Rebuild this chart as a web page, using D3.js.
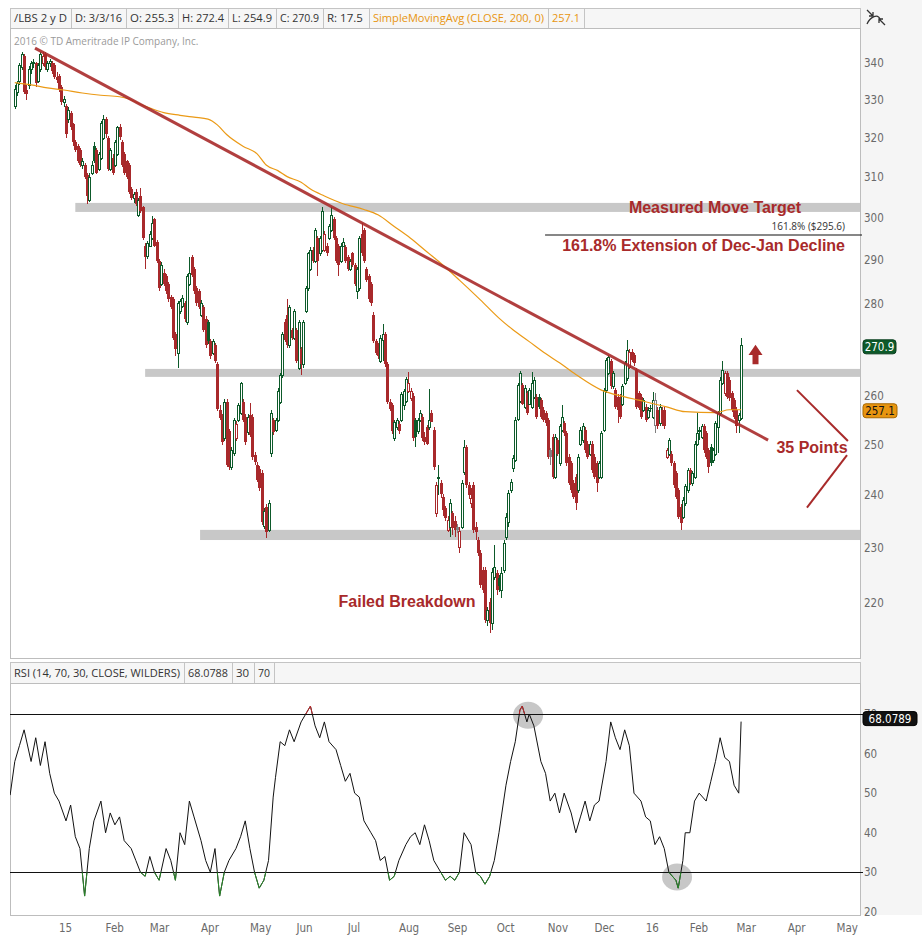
<!DOCTYPE html>
<html><head><meta charset="utf-8">
<script src="https://cdn.jsdelivr.net/npm/d3@7"></script>
<style>body{margin:0;background:#fff}svg{display:block}</style>
</head><body>
<svg id="c" width="922" height="941"></svg>
<script>
// ---------------- DATA ----------------
const symbolInfo = ["/LBS 2 y D", "D: 3/3/16", "O: 255.3", "H: 272.4", "L: 254.9", "C: 270.9", "R: 17.5"];
const smaLabel = ["SimpleMovingAvg (CLOSE, 200, 0)", "257.1"];
const rsiLabel = ["RSI (14, 70, 30, CLOSE, WILDERS)", "68.0788", "30", "70"];
const lastClose = 270.9, lastSma = 257.1, lastRsi = "68.0789";
const priceTicks = [220,230,240,250,260,270,280,290,300,310,320,330,340];
const rsiTicks = [20,30,40,50,60,70];
const monthAbbr = ["Jan","Feb","Mar","Apr","May","Jun","Jul","Aug","Sep","Oct","Nov","Dec"];
const holidays = ["2014-12-25","2015-01-01","2015-01-19","2015-02-16","2015-04-03","2015-05-25","2015-07-03","2015-09-07","2015-11-26","2015-12-25","2016-01-01","2016-01-18","2016-02-15","2016-03-25","2016-05-30"];
const firstCandleIndex = 3; // trading-day index from 2014-12-01
// [open, high, low, close]
const candles = [
[328.4,334,327.5,333],[332,335,331,334.5],[335,340,334,339.3],[338.7,343,338,342.4],[341.9,342.5,331.5,332],
[332.5,334,330,331.5],[334,339,333,338.2],[338.2,340.5,337,339.8],[339.8,341,338.5,340.3],[339.8,340.3,333.5,334.5],
[335,340,334.5,339.3],[338.2,343,337.5,342.4],[339.8,343,339,341.9],[342.4,343,338,338.7],[338.2,340.5,337.5,339.8],
[339.8,341,338.8,340.5],[339.8,340.5,337,337.7],[339.3,340,335.5,336.1],[336.1,337.5,334.5,335.2],[336.5,337,332,332.5],
[333.5,334,328.5,329.4],[329.4,331,328,330.2],[328.4,329,320,321],[324.9,328,324,327.4],[326.4,327,322,322.9],
[323.5,324,318,318.9],[319,319.5,316.5,317],[317.9,318.5,313.5,314],[316.9,317.5,312.5,313.1],[313.1,315,312,314],
[313,313.5,309.5,310],[310.5,311,303.5,305.4],[304.4,311,304,310.2],[311.2,314,310.5,313.1],[318,319,313.5,314],
[316.9,317.5,310.8,311.2],[312,316.5,311.5,316],[315,324.5,314.5,323.9],[320,325.9,319.5,324.9],[324.9,325.5,320,320.9],
[319.9,320.5,311.5,312.1],[312.1,317.5,311.5,316.9],[315,316,310.5,311.2],[313.1,319.5,312.5,318.9],[316,323.2,315.5,322.9],
[322.9,323.5,319.5,320.2],[318.9,319.5,312.5,313.1],[316,316.5,310.5,311.2],[314,314.5,309.5,310.2],[313.1,313.5,306,306.4],
[307,307.5,304.5,305],[305,306.5,303.8,305.8],[306.4,307,303,303.5],[300.8,305,300.3,304.4],[305.4,307.3,301.2,301.7],
[302.6,303,294.8,295.2],[293.4,294,288,290.7],[290.9,294.5,290.4,294],[293.4,297,293,296.2],[295.2,300.4,294.8,298.9],
[299.8,300,293,293.4],[294.3,294.8,289.3,289.8],[289.8,290.3,283,283.6],[284.5,289.5,284,288.9],[287.1,288,284,284.5],
[286.3,286.8,282.3,282.8],[284.5,285,280.5,281],[281.5,282,278.8,279.3],[281,281.5,272,272.5],[273.3,273.8,268.4,270],
[269.2,280.6,265.9,280.1],[278.4,281,277.8,280.6],[279.5,282,279,281.4],[280.1,280.6,276,276.7],[275.9,286.8,275.3,286.3],
[284.5,290.7,284,287.1],[290.7,291.2,286,286.6],[288,288.5,282.3,282.8],[283.6,284,279.6,280.1],[282.8,283.3,278.8,279.3],
[277.6,280.8,277,280.1],[279.3,279.8,273.7,274.2],[276.7,277.2,270.3,270.8],[275.9,276.4,271,271.7],[271.7,272.2,267.9,268.4],
[269.2,272.2,268.7,271.7],[270.8,271.3,267,267.5],[266.7,267.2,256.8,257.3],[257,258,255,255.5],[255.7,256.2,250,250.6],
[251.3,259.3,250.8,258.8],[258.8,259.3,245.5,246],[252.7,253.2,245,245.5],[245.5,249.5,245,249],[248.3,255.5,247.8,255],
[251.3,254.8,250.8,254.2],[255,258.5,254.5,258],[256.5,262.9,256,262.7],[258.8,259.3,254.5,255],[255.7,256.2,250,250.6],
[252.5,256.2,252,255.7],[256,258.5,251.5,252],[255.7,256.2,247,247.5],[248,248.5,246,246.5],[246,246.5,242.5,243],
[245.2,245.7,240.9,241.4],[244.4,244.9,234.3,234.8],[234.1,237.5,233.6,237],[237.8,238.3,231.9,233],[233.4,239,233,238.5],
[248.3,257,247.5,256.5],[255,255.5,252,252.5],[253,255.5,252.5,255],[255,261.6,254.5,261.1],[258.8,264.8,258.3,264.3],
[264.3,273.8,263.8,273.3],[276,276.5,271.5,272],[277.6,281,270.3,270.8],[270.8,279.8,270.3,279.3],[274.2,274.7,272,272.5],
[272.5,278.9,272,278.4],[274.2,274.7,267,267.5],[265.9,276.4,265.4,275.9],[270,270.5,264.3,266.7],[266.7,276.4,266,275.9],
[278.4,284,278,283.6],[283.6,292,283,291.6],[288,293,287.5,292.5],[292.5,293,289.3,289.8],[289.8,297.6,289.3,297.1],
[295.2,295.7,286.3,289.8],[291.6,295.7,291,295.2],[292.5,302.6,292,301.7],[292.5,297,292,296.2],[293.4,294,291,291.6],
[295.2,298.5,294.7,298],[297.1,302.6,296.6,300.8],[299.8,300.3,294.7,295.2],[295.2,295.7,289.3,289.8],[293.4,293.9,286.3,288.9],
[289.8,294,289.3,293.4],[293.4,295.2,293,294.3],[293,293.5,289.3,289.8],[290.7,291.2,287.5,288],[288,290.3,287.5,289.8],
[291.6,292,288.4,288.9],[288.9,289.4,284,284.5],[282.8,288.5,281,288],[283.5,295.7,283,295.2],[296.2,298.9,291.1,291.6],
[297.1,297.6,289.3,289.8],[288,288.5,284.9,285.4],[286.3,286.8,280.5,281],[284.5,285,279.6,280.1],[277.6,278.1,271.2,271.7],
[271.7,272.2,268.7,269.2],[270.8,271.3,267.9,268.4],[267.5,273,267,272.5],[272,275.5,267.5,273.3],[273.3,273.8,266.2,266.7],
[266.7,267.2,258.3,258.8],[258.8,259.3,256.8,257.3],[258,258.5,252.2,252.7],[251.3,255,250.8,254.5],[253.5,255.5,253,255],
[254.2,254.7,252.2,252.7],[255,260.8,254.5,260.3],[258,261.5,257,261],[259,264,258.5,263.5],[261.1,265.1,260.6,262.7],
[259.5,261.6,259,261.1],[260,260.5,250.8,251.3],[255,255.5,249.5,251.5],[252.7,255.5,252.2,255],[255,257,254.5,256.5],
[255.7,256.2,250.8,251.3],[251.5,252.5,250,250.6],[253.5,254,250,250.2],[253.5,261.5,253,255],[256.5,257,254.5,254.5],
[253,253.5,245,245.5],[236.6,242.5,235.8,242],[243.6,246,240,243.1],[242.4,243,239.5,240.2],[239.7,240.2,236,237.2],
[237.5,238,235,235.6],[233.4,236,233,235.3],[234,239.3,232.1,238.6],[236.5,237,232.5,233.8],[235,236,232,233.4],
[234,234.5,232.8,233.4],[230.2,234,229.1,233.2],[234,243,233.5,242.4],[244.5,251,244,249.5],[249.5,250,241.5,242],
[242,242.5,239.3,240],[238.5,241.4,237.5,239.5],[242,242.5,232.8,233.4],[234,234.8,231.5,233],[231.5,232,228.5,229.1],
[229.1,229.6,222.8,223.3],[226,226.5,221.9,222.4],[226,226.5,216.6,217.1],[217.1,219.3,216,218.8],[220.2,221,214.8,216.6],
[216.6,226.3,215.3,225.6],[224.7,230.5,224.2,226.5],[225.5,226,221.5,222.4],[224.5,225,222,223],[222.4,226.5,221,225.5],
[226,231.5,225.5,230.9],[232.1,236.5,231.5,235.9],[234.9,241,234,240.4],[241,243.2,240.4,242.6],[245.3,248,244.5,247.3],
[247,255.7,246.5,255],[255.2,262.8,254.8,262.3],[259,265.3,258.5,264.8],[262.3,262.8,258,258.4],[257.7,262.3,257.2,261.6],
[260.5,261,256,256.4],[258.4,261.7,258,261.2],[257.7,265.1,257.2,262.7],[259.8,264,259.3,263.4],[259.8,260.3,255.2,255.7],
[259.8,260.3,257.2,257.7],[259.1,259.6,255.2,255.7],[257.1,257.6,254.5,255],[256.4,256.9,253.8,254.3],[255,255.5,247.1,247.6],
[248.9,249.4,246,247.6],[251.6,252.1,243.1,243.6],[243.6,252.1,243.1,251.6],[250.9,251.4,247.7,248.2],[246.3,254.2,245.8,253.7],
[253,258.1,252.5,255.7],[254.3,254.8,251.8,252.3],[252.3,252.8,245.8,246.3],[247.6,248.1,241.9,242.4],[246.3,246.8,240.5,241],
[242.4,242.9,239.2,239.7],[243.6,244.1,237.2,238.5],[241,248.1,240.5,247.6],[250.2,253.5,249.7,253],[250.9,254.3,250.4,253.7],
[253,253.5,248.4,248.9],[250.2,250.7,247.1,247.6],[248.2,250.7,247.7,250.2],[250.2,250.7,244.4,244.9],[247.6,248.1,243.1,243.6],
[246.3,246.8,240.7,242.4],[243.6,246.8,243.1,246.3],[243.6,252.8,243.1,252.3],[253,261.7,252.5,261.2],[261.2,268.1,260.7,267.6],
[264.8,268.7,264.3,268.3],[267.3,267.8,261.5,262],[262,265.3,261.5,264.8],[261.2,261.7,257.2,257.7],[259.8,260.3,254.3,257.1],
[259.8,260.3,255.2,255.7],[258.4,262.5,257.9,262],[262.7,267.4,262.2,266.9],[263.7,272,263.2,269.8],[266.2,270,265.7,269.4],
[269.4,269.9,267.1,267.6],[268.7,269.2,266.4,266.9],[265.5,266,257.2,257.7],[260.5,261,257,257.4],[259.8,260.3,255.2,255.7],
[257.1,259.6,256.6,259.1],[257.7,258.2,254.5,255],[255.7,257.6,255.2,257.1],[257.5,258,256.6,257.4],[255.7,260.9,255.2,259.1],
[254,260.5,252.3,259.1],[257.1,257.6,253.2,253.7],[254.3,258.2,253.8,257.7],[257.1,257.6,253.8,254.3],[257.1,257.6,253.2,253.7],
[247.6,249.4,247.1,248.9],[248.2,251.4,247.7,250.9],[248.2,248.7,245.8,246.3],[246.3,246.8,241.5,242],[244.3,244.8,239.2,239.7],
[241,241.5,235.4,235.9],[237.8,238.3,233.4,234.7],[235.9,239.6,235.4,239.1],[238.5,242.2,238,241.7],[241,245.4,240.5,244.9],
[244.9,245.4,241.9,242.4],[242.4,244.8,241.7,244.3],[243.6,250.7,243.1,250.2],[250.2,256.4,249.7,252.3],[253,253.5,250.9,252.6],
[251.6,254.2,251.1,253.7],[253.7,254.2,248.4,248.9],[252.3,252.8,247.1,247.6],[248.9,249.4,244.3,245.6],[249.6,250.1,245.8,246.3],
[246.9,249.4,246.4,248.9],[248.2,254.8,247.7,254.3],[253.5,256.9,248.4,256.4],[256.4,263.9,255.9,263.4],[262.7,267.3,262.2,265.5],
[260.5,265.3,260,264.8],[264.8,265.3,259.3,259.8],[263.4,263.9,259,259.5],[260.5,261,256.6,257.1],[259.1,259.6,255.2,255.7],
[257.1,257.6,252.3,253.7],[255,256.5,252.3,256],[255.3,272.4,254.9,270.9]
];
// 200-day simple moving average: [tradingDayIndex, value]
const sma200 = [[3,334.6],[10,334],[17,333.2],[24,332.6],[32,331.8],[40,331.2],[48,330.8],[52,330.2],[57,328.8],[62,327.6],[67,326.6],[74,325.9],[80,325.4],[86,324.9],[90,323.4],[94,320.9],[101,317.9],[107,316],[111,313.1],[116,311.7],[120,310.2],[126,308.8],[130,307.1],[136,305.4],[144,303.5],[153,302.1],[159,300.8],[166,298],[173,295.2],[180,292],[186,289.3],[194,285.4],[203,280.9],[211,276.8],[217,274.2],[224,271.6],[231,269],[237,267],[244,264.5],[255,261.2],[265,259.8],[271,259.1],[283,257.7],[291,256.7],[304,256.5],[310,257.1],[315,257.1]];
// RSI(14): [tradingDayIndex, value]
const rsi14 = [[1,49.5],[3,58],[5,62],[7,66],[10,58],[12,64],[14,57],[16,63],[18,55],[20,50],[22,48],[25,43],[27,47],[29,39],[31,36],[33,24],[35,36],[37,43],[40,48],[42,40],[44,45],[46,42],[48,44],[50,38],[53,36],[55,33],[57,30],[59,29],[61,34],[63,30],[65,28],[68,36],[70,33],[72,28],[74,40],[76,37],[78,48],[80,44],[83,38],[85,33],[87,30],[89,36],[91,24],[93,30],[95,33],[98,36],[100,39],[102,43],[104,36],[106,30],[108,26],[110,28],[112,33],[114,49],[115,54],[117,63],[119,62],[121,66],[123,63],[126,68],[128,70],[130,72],[132,67],[134,64],[136,68],[138,63],[141,61],[143,57],[145,53],[147,55],[149,50],[151,49],[153,43],[156,40],[158,38],[160,33],[162,34],[164,28],[166,29],[168,33],[171,37],[173,39],[175,40],[177,37],[179,42],[181,38],[183,33],[186,30],[188,28],[190,29],[192,28],[194,30],[196,40],[199,37],[201,30],[203,29],[205,27],[207,29],[209,33],[211,40],[214,52],[216,58],[218,63],[220,71],[221,72],[223,68],[224,70],[226,67],[229,58],[231,55],[233,48],[235,50],[237,45],[239,50],[242,45],[244,40],[246,44],[248,48],[250,43],[252,47],[254,48],[257,58],[259,68],[261,64],[263,61],[265,66],[267,62],[269,50],[272,48],[274,44],[276,43],[278,37],[280,39],[282,36],[284,30],[287,28],[288,26],[290,33],[291,40],[293,40],[295,48],[297,50],[300,48],[302,53],[304,58],[306,64],[308,59],[310,58],[312,52],[314,50],[315,68.08]];
// annotations (trading-day index / price)
const srBands = [[301.5,303.7,29],[264,265.7,59],[231.5,233.4,82.6]]; // [low, high, startIndex]
const trendLine = [[11.7,344],[326.6,250.9]];
const target = {label:"161.8%  ($295.6)", price:295.6, startIndex:230.8};
const chevron = [[[339,261.2],[360.9,250.7]],[[360.5,247.9],[343.3,237.6]]];
const upArrow = {index:321.2, tip:270.9, base:268.7, tail:266.7};
const rsiCircles = [[223.5,69.7],[287.5,28.8]];

// ---------------- LAYOUT ----------------
const L=10, R=860, priceTop=28, priceBot=658, rsiHeadTop=662, rsiHeadBot=683, rsiBot=915;
const headerEdges = [10,71,126,178,228,276,323,369,548,584,860];
const rsiHeaderEdges = [10,184,232,254,274,860];
const GREEN="#0d5a2a", RED="#a8292b", GRAY="#808080", ANN="#a82a2a";
const svg = d3.select("#c");
const x = d3.scaleLinear().domain([0,366]).range([7.8,859.8]);
const yP = d3.scaleLog().domain([220,340]).range([603.3,62.7]);
const yR = d3.scaleLinear().domain([20,70]).range([911.9,714]);
const uiFont = "'Open Sans', 'DejaVu Sans', sans-serif";
const axFont = "'Liberation Sans Narrow','DejaVu Sans Condensed','Open Sans',sans-serif";
const annFont = "'Liberation Sans', Arial, sans-serif";

svg.append("rect").attr("width",922).attr("height",941).attr("fill","#fff");
svg.append("rect").attr("x",R).attr("y",0).attr("width",62).attr("height",rsiBot).attr("fill","#f5f5f5");

const defs = svg.append("defs");
defs.append("clipPath").attr("id","cp").append("rect").attr("x",L).attr("y",priceTop).attr("width",R-L).attr("height",priceBot-priceTop);
defs.append("clipPath").attr("id","cr").append("rect").attr("x",L).attr("y",rsiHeadBot).attr("width",R-L).attr("height",rsiBot-rsiHeadBot);
defs.append("clipPath").attr("id","crHi").append("rect").attr("x",L).attr("y",rsiHeadBot).attr("width",R-L).attr("height",yR(70)-rsiHeadBot);
defs.append("clipPath").attr("id","crLo").append("rect").attr("x",L).attr("y",yR(30)).attr("width",R-L).attr("height",rsiBot-yR(30));

// header rows with fixed cell edges
function cellRow(texts, colors, edges, y0, y1, fs){
  const g = svg.append("g");
  for(let k=0;k<edges.length-1;k++){
    g.append("rect").attr("x",edges[k]+0.5).attr("y",y0+0.5).attr("width",edges[k+1]-edges[k]).attr("height",y1-y0).attr("fill","#f6f6f6").attr("stroke","#c4c4c4");
  }
  texts.forEach((t,k)=>{
    const avail = edges[k+1]-edges[k]-8;
    const tx = g.append("text").attr("x",edges[k]+4).attr("y",y0+(y1-y0)/2+4).attr("font-family",uiFont).attr("font-size",fs).attr("fill",colors[k]).text(t);
    if(tx.node().getComputedTextLength()>avail) tx.attr("textLength",avail).attr("lengthAdjust","spacingAndGlyphs");
  });
}
cellRow(symbolInfo.concat(smaLabel), symbolInfo.map(()=>"#333").concat(["#e8950f","#e8950f"]), headerEdges, 8, 28, 11.5);
svg.append("text").attr("x",14).attr("y",45).attr("font-family",uiFont).attr("font-size",10).attr("fill","#9a9a9a").text("2016 \u00a9 TD Ameritrade IP Company, Inc.");

// top right icon
const ic = svg.append("g").attr("stroke","#333").attr("fill","none").attr("stroke-width",1.3);
ic.append("path").attr("d","M867 10 L873 16 M873 12 L873 16 L869 16");
ic.append("path").attr("d","M867 24 C870 17, 878 13, 880 19");
ic.append("path").attr("d","M885 25 L879 19 M879 23 L879 19 L883 19");

// price panel frame
svg.append("rect").attr("x",L+0.5).attr("y",priceTop+0.5).attr("width",R-L).attr("height",priceBot-priceTop).attr("fill","none").attr("stroke","#bdbdbd");

const pg = svg.append("g").attr("clip-path","url(#cp)");
pg.selectAll("rect.band").data(srBands).join("rect").attr("class","band")
  .attr("x",d=>x(d[2])).attr("y",d=>yP(d[1])).attr("width",d=>R-x(d[2])).attr("height",d=>yP(d[0])-yP(d[1])).attr("fill","#c8c8c8");

// candles
const cg = pg.append("g").attr("shape-rendering","crispEdges");
candles.forEach((c,k)=>{
  const i = firstCandleIndex+k, [o,h,l,cl]=c;
  const prev = k>0 ? candles[k-1][3] : o;
  const col = cl>prev ? GREEN : (cl<prev ? RED : GRAY);
  const hollow = cl>o;
  const rx = Math.round(x(i));
  const top = yP(Math.max(o,cl)), bot = yP(Math.min(o,cl));
  cg.append("line").attr("x1",rx+0.5).attr("x2",rx+0.5).attr("y1",yP(h)).attr("y2",yP(l)).attr("stroke",col).attr("stroke-width",1);
  if(hollow){
    cg.append("rect").attr("x",rx-0.5).attr("y",Math.round(top)+0.5).attr("width",2).attr("height",Math.max(1,Math.round(bot)-Math.round(top)))
      .attr("fill","#fff").attr("stroke",col).attr("stroke-width",1);
  } else {
    cg.append("rect").attr("x",rx-1).attr("y",Math.round(top)).attr("width",3).attr("height",Math.max(1,Math.round(bot)-Math.round(top))).attr("fill",col);
  }
});

pg.append("path").datum(sma200).attr("fill","none").attr("stroke","#eb9a16").attr("stroke-width",1.2)
  .attr("d",d3.line().x(d=>x(d[0])).y(d=>yP(d[1])).curve(d3.curveMonotoneX));
pg.append("line").attr("x1",x(trendLine[0][0])).attr("y1",yP(trendLine[0][1])).attr("x2",x(trendLine[1][0])).attr("y2",yP(trendLine[1][1]))
  .attr("stroke",ANN).attr("stroke-width",3).attr("stroke-opacity",0.9);

svg.append("line").attr("x1",x(target.startIndex)).attr("x2",R+2).attr("y1",yP(target.price)-1.5).attr("y2",yP(target.price)-1.5).attr("stroke","#111").attr("stroke-width",1.2);
svg.append("text").attr("x",845).attr("y",yP(target.price)-6.5).attr("text-anchor","end").attr("font-family",uiFont).attr("font-size",10).attr("fill","#333").text(target.label);
function ann(t,xx,yy,anchor){svg.append("text").attr("x",xx).attr("y",yy).attr("text-anchor",anchor||"start").attr("font-family",annFont).attr("font-weight","bold").attr("font-size",16).attr("fill",ANN).text(t);}
ann("Measured Move Target",715,213,"middle");
ann("161.8% Extension of Dec-Jan Decline",845,251,"end");
ann("35 Points",812,453,"middle");
ann("Failed Breakdown",407,607,"middle");
ann("Momentum Giving Mixed Signals",635,699,"middle");
chevron.forEach(s=>svg.append("line").attr("x1",x(s[0][0])).attr("y1",yP(s[0][1])).attr("x2",x(s[1][0])).attr("y2",yP(s[1][1])).attr("stroke",ANN).attr("stroke-width",2));
{const ax=x(upArrow.index), t=yP(upArrow.tip), b=yP(upArrow.base), e=yP(upArrow.tail);
 svg.append("path").attr("d",`M${ax} ${t} L${ax+7} ${b} L${ax+3} ${b} L${ax+3} ${e} L${ax-3} ${e} L${ax-3} ${b} L${ax-7} ${b} Z`).attr("fill",ANN);}

// price axis labels
svg.selectAll("text.pt").data(priceTicks).join("text").attr("class","pt").attr("x",864).attr("y",d=>yP(d)+4)
  .attr("font-family",axFont).attr("font-size",11.5).attr("fill","#6a6a6a").text(d=>d);
function badge(val,yy,w,fill,stroke,tcol){
  svg.append("rect").attr("x",863).attr("y",yy-7).attr("width",w).attr("height",14).attr("rx",3).attr("fill",fill).attr("stroke",stroke);
  svg.append("text").attr("x",863+w/2).attr("y",yy+4).attr("text-anchor","middle").attr("font-family",axFont).attr("font-size",11.5).attr("fill",tcol).text(val);
}
badge(lastClose.toFixed(1), yP(lastClose)+2, 33, "#0d5a2a", "#083d1c", "#fff");
badge(lastSma.toFixed(1), yP(lastSma)+1, 34, "#e8950f", "#a86800", "#111");

// RSI panel
cellRow(rsiLabel, rsiLabel.map(()=>"#333"), rsiHeaderEdges, rsiHeadTop, rsiHeadBot, 11.5);
svg.append("rect").attr("x",L+0.5).attr("y",rsiHeadBot+0.5).attr("width",R-L).attr("height",rsiBot-rsiHeadBot).attr("fill","#fff").attr("stroke","#bdbdbd");
const rg = svg.append("g").attr("clip-path","url(#cr)");
rg.selectAll("ellipse").data(rsiCircles).join("ellipse").attr("cx",d=>x(d[0])).attr("cy",d=>yR(d[1])).attr("rx",15).attr("ry",13.5).attr("fill","#b9b9b9").attr("opacity",0.8);
[70,30].forEach(v=>svg.append("line").attr("x1",L).attr("x2",R+3).attr("y1",Math.round(yR(v))+0.5).attr("y2",Math.round(yR(v))+0.5).attr("stroke","#111").attr("stroke-width",1));
const rline = d3.line().x(d=>x(d[0])).y(d=>yR(d[1]));
rg.append("path").datum(rsi14).attr("fill","none").attr("stroke","#111").attr("stroke-width",1).attr("d",rline);
svg.append("g").attr("clip-path","url(#crHi)").append("path").datum(rsi14).attr("fill","none").attr("stroke","#c0282a").attr("stroke-width",1).attr("d",rline);
svg.append("g").attr("clip-path","url(#crLo)").append("path").datum(rsi14).attr("fill","none").attr("stroke","#2a8a2a").attr("stroke-width",1).attr("d",rline);
svg.selectAll("text.rt").data(rsiTicks).join("text").attr("class","rt").attr("x",864).attr("y",d=>yR(d)+4)
  .attr("font-family",axFont).attr("font-size",11.5).attr("fill","#6a6a6a").text(d=>d);
badge(lastRsi, yR(68.08)-3, 54, "#111", "#000", "#fff");

// time axis from trading days
function tradingDays(){
  const hol = new Set(holidays), out=[];
  const d = new Date(Date.UTC(2014,11,1)), end = new Date(Date.UTC(2016,4,31));
  while(d<=end){
    const wd=d.getUTCDay(), s=d.toISOString().slice(0,10);
    if(wd!==0 && wd!==6 && !hol.has(s)) out.push(new Date(d));
    d.setUTCDate(d.getUTCDate()+1);
  }
  return out;
}
const days = tradingDays();
const monthTicks = [];
days.forEach((d,i)=>{ if(i>0 && d.getUTCMonth()!==days[i-1].getUTCMonth()) monthTicks.push({i, label: d.getUTCMonth()===0 ? String(d.getUTCFullYear()%100) : monthAbbr[d.getUTCMonth()]}); });
svg.selectAll("text.mt").data(monthTicks).join("text").attr("class","mt").attr("x",d=>x(d.i)).attr("y",932)
  .attr("font-family",axFont).attr("font-size",11.5).attr("fill","#6a6a6a").text(d=>d.label);
</script>
</body></html>
